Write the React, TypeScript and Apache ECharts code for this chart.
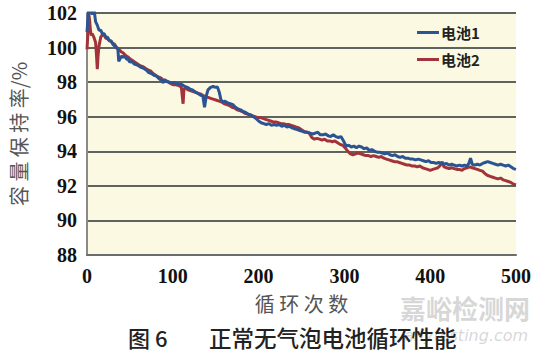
import React, { useEffect, useRef } from "react";
import * as echarts from "echarts";

const yTicks = [88, 90, 92, 94, 96, 98, 100, 102];
const xTicks = [0, 100, 200, 300, 400, 500];
const seriesNames = ["电池1", "电池2"];

const cyclesA = [0,1,2,4,6,8,10,12,14,16,18,20,22,24,26,28,30,32,34,36,37,38,40,42,44,46,48,50,52,55,58,60,63,66,69,72,75,78,81,84,87,89,90,93,96,99,102,105,108,111,114,117,120,123,126,129,132,135,137,139,141,144,147,150,152,154,156,158,161,164,167,170,173,176,179,182,185,188,191,194,197,200,203,206,209,212,215,218,221,224,227,230,233,236,239,242,245,248,251,254,257,260,263,266,269,272,275,278,281,284,287,290,293,296,299,302,305,308,311,314,317,320,323,326,329,332,335,338,341,344,347,350,353,356,359,362,365,368,371,374,377,380,383,386,389,392,395,398,401,404,407,410,413,416,419,422,425,428,431,434,437,440,443,445,447,449,452,455,458,461,464,467,470,473,476,479,482,485,488,491,494,497,500];
const valuesA = [100.9,101.6,102.2,102.3,101.9,102.3,101.5,101.3,101.0,101.0,100.8,100.8,100.6,100.6,100.4,100.4,100.2,100.1,100.0,99.9,99.2,99.3,99.5,99.45,99.5,99.35,99.3,99.15,99.2,99.05,99.0,98.95,98.85,98.8,98.7,98.55,98.5,98.4,98.35,98.2,98.1,97.95,98.15,98.05,98.0,97.95,97.98,97.9,97.9,97.85,97.75,97.7,97.6,97.55,97.45,97.35,97.25,97.2,96.55,97.2,97.55,97.7,97.75,97.7,97.72,97.45,97.0,96.85,96.9,96.8,96.75,96.7,96.55,96.45,96.4,96.3,96.25,96.15,96.1,96.0,95.9,95.75,95.65,95.6,95.55,95.6,95.5,95.55,95.5,95.55,95.45,95.5,95.4,95.45,95.35,95.3,95.25,95.2,95.15,95.1,95.1,95.05,95.0,95.05,95.1,94.95,94.95,95.0,94.9,94.85,94.95,94.85,94.8,94.85,94.6,94.3,94.35,94.25,94.3,94.2,94.3,94.25,94.15,94.2,94.05,94.1,94.0,93.95,93.95,93.9,93.85,93.9,93.8,93.75,93.8,93.7,93.65,93.7,93.6,93.6,93.55,93.55,93.5,93.55,93.5,93.45,93.4,93.45,93.35,93.35,93.3,93.35,93.3,93.25,93.3,93.2,93.25,93.2,93.15,93.2,93.15,93.2,93.15,93.3,93.6,93.25,93.2,93.25,93.2,93.3,93.35,93.4,93.35,93.3,93.25,93.2,93.25,93.2,93.15,93.2,93.1,93.0,92.95];

const cyclesB = [0,1,2,3,4,5,6,8,10,11,12,13,14,16,18,20,22,24,26,28,30,32,34,36,38,40,42,44,46,48,50,53,56,59,62,65,68,71,74,77,80,83,86,89,92,95,98,101,104,107,110,112,113,115,118,121,124,127,130,133,136,139,142,145,148,151,154,157,160,163,166,169,172,175,178,181,184,187,190,193,196,199,202,205,208,211,214,217,220,223,226,229,232,235,238,241,244,247,250,253,256,259,262,265,268,271,274,277,280,283,286,289,292,295,298,301,304,307,310,313,316,319,322,325,328,331,334,337,340,343,346,349,352,355,358,361,364,367,370,373,376,379,382,385,388,391,394,397,400,403,406,409,412,414,416,419,422,425,428,431,434,437,440,443,446,449,452,455,458,461,464,467,470,473,476,479,482,485,488,491,494,497,500];
const valuesB = [99.9,100.8,102.0,101.6,101.0,100.7,100.8,100.6,100.3,99.6,98.75,99.6,100.1,100.6,100.75,100.7,100.55,100.5,100.4,100.35,100.25,100.2,100.05,99.95,99.85,99.75,99.7,99.6,99.5,99.45,99.35,99.25,99.15,99.05,98.95,98.9,98.8,98.7,98.65,98.5,98.4,98.3,98.25,98.1,98.05,98.0,97.9,97.85,97.85,97.8,97.7,96.75,97.6,97.65,97.55,97.5,97.45,97.4,97.35,97.3,97.2,97.15,97.1,97.05,97.0,96.95,96.9,96.85,96.75,96.7,96.65,96.55,96.5,96.4,96.35,96.3,96.2,96.15,96.1,96.05,96.0,95.95,95.95,95.9,95.85,95.8,95.75,95.7,95.7,95.65,95.6,95.6,95.55,95.55,95.5,95.45,95.4,95.35,95.25,95.15,95.1,95.05,94.8,94.7,94.75,94.7,94.65,94.7,94.6,94.6,94.55,94.6,94.5,94.4,94.35,94.2,94.0,93.85,93.8,93.85,93.9,93.85,93.8,93.75,93.75,93.7,93.75,93.7,93.65,93.7,93.6,93.55,93.5,93.45,93.4,93.4,93.35,93.3,93.25,93.2,93.2,93.15,93.15,93.1,93.15,93.05,93.0,92.95,92.9,92.95,93.0,93.05,93.2,93.4,93.1,93.05,93.0,93.05,93.0,92.95,92.95,92.9,93.0,93.05,93.1,93.05,93.0,92.95,92.9,92.85,92.7,92.6,92.55,92.5,92.45,92.4,92.45,92.35,92.3,92.25,92.2,92.1,92.05];

const zip = (xs: number[], ys: number[]) => xs.map((x, i) => [x, ys[i]]);

export default function App() {
  const ref = useRef<HTMLDivElement>(null);
  useEffect(() => {
    const chart = echarts.init(ref.current!, null, { renderer: "svg" });
    const numFont = "Liberation Serif";
    const cjk = "Noto Sans CJK SC";
    chart.setOption({
      animation: false,
      backgroundColor: "#ffffff",
      grid: {
        left: 84,
        top: 13,
        width: 432,
        height: 242,
        show: true,
        backgroundColor: "#fbf9e1",
        borderWidth: 0,
      },
      legend: {
        data: seriesNames,
        orient: "vertical",
        left: 412,
        top: 20,
        itemGap: 12,
        itemWidth: 22,
        itemHeight: 3,
        icon: "rect",
        textStyle: { fontFamily: cjk, fontWeight: "bold", fontSize: 15, color: "#222", padding: [0, 0, 0, -3] },
      },
      xAxis: {
        type: "value",
        min: xTicks[0],
        max: xTicks[xTicks.length - 1],
        interval: 100,
        name: "循 环 次 数",
        nameLocation: "middle",
        nameGap: 38,
        nameTextStyle: { fontFamily: cjk, fontSize: 20, color: "#555" },
        axisLine: { show: true, lineStyle: { color: "#6a6d6a", width: 2 } },
        axisTick: { show: false },
        splitLine: { show: false },
        axisLabel: { fontFamily: numFont, fontWeight: "bold", fontSize: 20, color: "#111", margin: 11 },
      },
      yAxis: {
        type: "value",
        min: yTicks[0],
        max: yTicks[yTicks.length - 1],
        interval: 2,
        name: "容 量 保 持 率/%",
        nameLocation: "middle",
        nameRotate: 90,
        nameGap: 59,
        nameTextStyle: { fontFamily: cjk, fontSize: 20, color: "#555" },
        axisLine: { show: true, lineStyle: { color: "#8a8a8a", width: 2 } },
        axisTick: { show: false },
        splitLine: { show: true, lineStyle: { color: "#5f6360", width: 2 } },
        axisLabel: { fontFamily: numFont, fontWeight: "bold", fontSize: 20, color: "#111", margin: 10 },
      },
      series: [
        {
          name: seriesNames[0],
          type: "line",
          data: zip(cyclesA, valuesA),
          showSymbol: false,
          clip: true,
          lineStyle: { color: "#2b5494", width: 3 },
          itemStyle: { color: "#2b5494" },
          z: 3,
        },
        {
          name: seriesNames[1],
          type: "line",
          data: zip(cyclesB, valuesB),
          showSymbol: false,
          clip: true,
          lineStyle: { color: "#a2333a", width: 3 },
          itemStyle: { color: "#a2333a" },
          z: 2,
        },
      ],
      graphic: [
        {
          type: "text",
          left: 400,
          top: 294,
          style: { text: "嘉峪检测网", fontFamily: cjk, fontSize: 26, fontWeight: "bold", fill: "rgba(175,175,175,0.5)" },
        },
        {
          type: "text",
          left: 404,
          top: 327,
          style: { text: "anytesting.com", fontFamily: "DejaVu Sans", fontStyle: "italic", fontSize: 16, fill: "rgba(175,175,175,0.5)" },
        },
        {
          type: "text",
          left: 128,
          top: 326,
          style: { text: "图 6", fontFamily: cjk, fontSize: 22, fontWeight: 500, fill: "#222" },
        },
        {
          type: "text",
          left: 209,
          top: 326,
          style: { text: "正常无气泡电池循环性能", fontFamily: cjk, fontSize: 22.5, fontWeight: 500, fill: "#222", backgroundColor: "rgba(255,255,255,0)" },
        },
      ],
    });
    return () => chart.dispose();
  }, []);
  return <div ref={ref} style={{ width: 545, height: 356, position: "absolute", left: 0, top: 0 }} />;
}
